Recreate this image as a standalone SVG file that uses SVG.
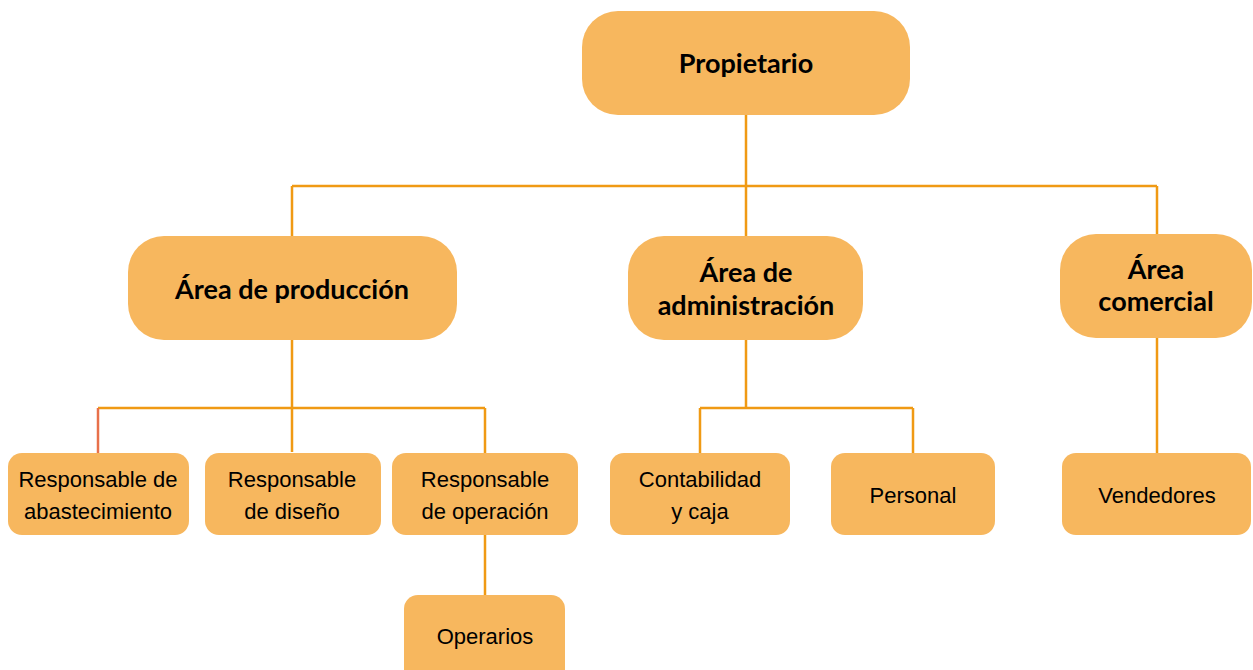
<svg xmlns="http://www.w3.org/2000/svg" width="1253" height="670" viewBox="0 0 1253 670">
<style>
.big{fill:#F7B75E;}
.small{fill:#F7B75E;}
.b{font-family:"Lato","Open Sans","Liberation Sans",sans-serif;font-weight:bold;font-size:27px;fill:#000;text-anchor:middle;}
.r{font-family:"Liberation Sans Narrow","Liberation Sans",sans-serif;font-size:22px;fill:#000;text-anchor:middle;}
.c{stroke:#F09A14;stroke-width:2.5;fill:none;}
</style>
<rect width="1253" height="670" fill="#fff"/>
<g id="connectors">
<path class="c" d="M746 115V236M292 186H1157M292 186V236M1157 186V234"/>
<path class="c" d="M292 340V408M98 408H485M292 408V452M485 408V454M485 535V595"/>
<path d="M98 408V454" stroke="#E8704A" stroke-width="2.5" fill="none"/>
<path class="c" d="M746 340V408M700 408H913M700 408V453M913 408V453"/>
<path class="c" d="M1157 338V453"/>
</g>
<g id="propietario"><rect class="big" x="582" y="11" width="328" height="104" rx="36"/><text class="b" x="746" y="73">Propietario</text></g>
<g id="produccion"><rect class="big" x="128" y="236" width="329" height="104" rx="36"/><text class="b" x="292" y="299">Área de producción</text></g>
<g id="administracion"><rect class="big" x="628" y="236" width="235" height="104" rx="36"/><text class="b" x="746" y="282">Área de</text><text class="b" x="746" y="315">administración</text></g>
<g id="comercial"><rect class="big" x="1060" y="234" width="192" height="104" rx="36"/><text class="b" x="1156" y="279">Área</text><text class="b" x="1156" y="311">comercial</text></g>
<g id="abastecimiento"><rect class="small" x="8" y="453" width="181" height="82" rx="14"/><text class="r" x="98" y="487">Responsable de</text><text class="r" x="98" y="519">abastecimiento</text></g>
<g id="diseno"><rect class="small" x="205" y="453" width="176" height="82" rx="14"/><text class="r" x="292" y="487">Responsable</text><text class="r" x="292" y="519">de diseño</text></g>
<g id="operacion"><rect class="small" x="392" y="453" width="186" height="82" rx="14"/><text class="r" x="485" y="487">Responsable</text><text class="r" x="485" y="519">de operación</text></g>
<g id="contabilidad"><rect class="small" x="610" y="453" width="180" height="82" rx="14"/><text class="r" x="700" y="487">Contabilidad</text><text class="r" x="700" y="519">y caja</text></g>
<g id="personal"><rect class="small" x="831" y="453" width="164" height="82" rx="14"/><text class="r" x="913" y="503">Personal</text></g>
<g id="vendedores"><rect class="small" x="1062" y="453" width="189" height="82" rx="14"/><text class="r" x="1157" y="503">Vendedores</text></g>
<g id="operarios"><rect class="small" x="404" y="595" width="161" height="90" rx="14"/><text class="r" x="485" y="644">Operarios</text></g>
</svg>
